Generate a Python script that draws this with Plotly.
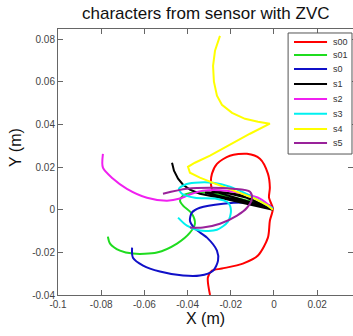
import plotly.graph_objects as go

# ---- data (metres) ----
series_names = ["s00", "s01", "s0", "s1", "s2", "s3", "s4", "s5"]
series_colors = ["#ff0000", "#1fdc1f", "#1010c8", "#000000", "#f020f0", "#00f0f0", "#ffff00", "#99229a"]

s00_x = [-0.0282, -0.0292, -0.0287, -0.0264, -0.0204, -0.0125, -0.0065, -0.0028, -0.0019, -0.0023, -0.0005,
         -0.0019, -0.0028, -0.0074, -0.0144, -0.0241, -0.0287, -0.0306, -0.0296]
s00_y = [0.0075, 0.0122, 0.0169, 0.0215, 0.0253, 0.0262, 0.0239, 0.0169, 0.0103, 0.0056, 0.0005,
         -0.0052, -0.0131, -0.0215, -0.0253, -0.0276, -0.0286, -0.0318, -0.0400]

s01_x = [-0.0769, -0.0759, -0.0713, -0.0653, -0.0542, -0.0449, -0.0389, -0.0366, -0.0380, -0.0421, -0.0435,
         -0.0421, -0.0375, -0.0310, -0.0204, -0.0088, -0.0005]
s01_y = [-0.0126, -0.0159, -0.0192, -0.0206, -0.0201, -0.0159, -0.0108, -0.0066, -0.0019, 0.0019, 0.0042,
         0.0066, 0.0080, 0.0080, 0.0061, 0.0033, 0.0005]

s0_x = [-0.0657, -0.0653, -0.0606, -0.0528, -0.0421, -0.0343, -0.0282, -0.0259, -0.0264, -0.0310, -0.0366,
        -0.0389, -0.0380, -0.0343, -0.0236, -0.0111, -0.0019, -0.0005]
s0_y = [-0.0178, -0.0225, -0.0262, -0.0290, -0.0309, -0.0309, -0.0286, -0.0239, -0.0192, -0.0131, -0.0089,
        -0.0052, -0.0014, 0.0009, 0.0028, 0.0033, 0.0019, 0.0005]

s1_x = [-0.0472, -0.0463, -0.0444, -0.0421, -0.0389, -0.0343, -0.0250, -0.0134, -0.0005, -0.0111, -0.0227,
        -0.0319, -0.0213, -0.0074, -0.0005, -0.0157, -0.0287, -0.0194, -0.0056, -0.0005]
s1_y = [0.0220, 0.0183, 0.0145, 0.0117, 0.0094, 0.0075, 0.0056, 0.0028, 0.0000, 0.0052, 0.0080,
        0.0080, 0.0056, 0.0023, 0.0000, 0.0070, 0.0089, 0.0061, 0.0019, 0.0000]

s2_x = [-0.0792, -0.0792, -0.0745, -0.0681, -0.0588, -0.0495, -0.0435, -0.0380, -0.0329, -0.0218, -0.0144,
        -0.0065, -0.0009]
s2_y = [0.0262, 0.0197, 0.0145, 0.0098, 0.0056, 0.0042, 0.0052, 0.0075, 0.0089, 0.0089, 0.0075,
        0.0052, 0.0009]

s3_x = [-0.0444, -0.0403, -0.0343, -0.0264, -0.0213, -0.0199, -0.0213, -0.0273, -0.0366, -0.0426, -0.0440,
        -0.0412, -0.0366, -0.0282, -0.0204, -0.0111, -0.0005]
s3_y = [-0.0037, -0.0075, -0.0098, -0.0094, -0.0056, -0.0005, 0.0033, 0.0052, 0.0056, 0.0075, 0.0098,
        0.0117, 0.0126, 0.0126, 0.0108, 0.0066, 0.0005]

s4_x = [-0.0250, -0.0273, -0.0282, -0.0278, -0.0264, -0.0241, -0.0194, -0.0134, -0.0074, -0.0019,
        -0.0111, -0.0204, -0.0296, -0.0366, -0.0398, -0.0389, -0.0343, -0.0273, -0.0181, -0.0088, -0.0028, -0.0005]
s4_y = [0.0815, 0.0745, 0.0674, 0.0600, 0.0534, 0.0492, 0.0454, 0.0426, 0.0412, 0.0403,
        0.0356, 0.0304, 0.0253, 0.0220, 0.0201, 0.0173, 0.0150, 0.0122, 0.0089, 0.0052, 0.0019, 0.0000]

s5_x = [-0.0514, -0.0403, -0.0296, -0.0190, -0.0111, -0.0102, -0.0125, -0.0171, -0.0250, -0.0329, -0.0389]
s5_y = [0.0075, 0.0098, 0.0103, 0.0098, 0.0084, 0.0052, 0.0009, -0.0028, -0.0066, -0.0084, -0.0084]

xs = [s00_x, s01_x, s0_x, s1_x, s2_x, s3_x, s4_x, s5_x]
ys = [s00_y, s01_y, s0_y, s1_y, s2_y, s3_y, s4_y, s5_y]

x_ticks = [-0.1, -0.08, -0.06, -0.04, -0.02, 0, 0.02]
x_tick_labels = ["-0.1", "-0.08", "-0.06", "-0.04", "-0.02", "0", "0.02"]
y_ticks = [-0.04, -0.02, 0, 0.02, 0.04, 0.06, 0.08]
y_tick_labels = ["-0.04", "-0.02", "0", "0.02", "0.04", "0.06", "0.08"]

FONT = "Liberation Sans, Arial, sans-serif"
fig = go.Figure()
for name, color, x, y in zip(series_names, series_colors, xs, ys):
    shape = "linear" if name in ("s4", "s1") else "spline"
    fig.add_trace(go.Scatter(x=x, y=y, mode="lines", name=name, showlegend=False,
                             line=dict(color=color, width=2, shape=shape, smoothing=0.8)))

# manual legend (compact, like the original)
lx0, lx1, ltext = 0.80, 0.912, 0.926
item_y = [0.951, 0.902, 0.850, 0.793, 0.737, 0.681, 0.624, 0.571]
shapes = [dict(type="rect", xref="paper", yref="paper", x0=0.78, x1=0.9966, y0=0.53, y1=0.985,
               line=dict(color="#555555", width=1), fillcolor="white", layer="above")]
annotations = []
for name, color, yy in zip(series_names, series_colors, item_y):
    shapes.append(dict(type="line", xref="paper", yref="paper", x0=lx0, x1=lx1, y0=yy, y1=yy,
                       line=dict(color=color, width=2), layer="above"))
    annotations.append(dict(text=name, xref="paper", yref="paper", x=ltext, y=yy, xanchor="left",
                            yanchor="middle", showarrow=False, font=dict(size=9, color="#333333", family=FONT)))

annotations.append(dict(text="characters from sensor with ZVC", xref="paper", yref="paper", x=0.5, y=1.06,
                        xanchor="center", yanchor="middle", showarrow=False,
                        font=dict(size=17, color="#111111", family=FONT)))
annotations.append(dict(text="X (m)", xref="paper", yref="paper", x=0.5, y=-0.088,
                        xanchor="center", yanchor="middle", showarrow=False,
                        font=dict(size=16, color="#111111", family=FONT)))
annotations.append(dict(text="Y (m)", xref="paper", yref="paper", x=-0.142, y=0.553, textangle=-90,
                        xanchor="center", yanchor="middle", showarrow=False,
                        font=dict(size=16, color="#111111", family=FONT)))

axis_common = dict(showgrid=False, zeroline=False, showline=True, linecolor="#666666", linewidth=1,
                   mirror="ticks", ticks="inside", ticklen=5, tickcolor="#666666", automargin=False,
                   tickfont=dict(size=10, color="#444444", family=FONT))
fig.update_layout(
    width=353, height=336,
    margin=dict(l=58, r=0, t=29, b=41, autoexpand=False),
    paper_bgcolor="white", plot_bgcolor="white",
    xaxis=dict(range=[-0.1, 0.0366], tickvals=x_ticks, ticktext=x_tick_labels, **axis_common),
    yaxis=dict(range=[-0.04, 0.0847], tickvals=y_ticks, ticktext=y_tick_labels, **axis_common),
    shapes=shapes, annotations=annotations,
)
# remove the browser's default 8px page margin so the figure fills the window exactly
fig.write_html("out.html", config={"displayModeBar": False},
               post_script="document.body.style.margin='0';document.body.style.overflow='hidden';")
